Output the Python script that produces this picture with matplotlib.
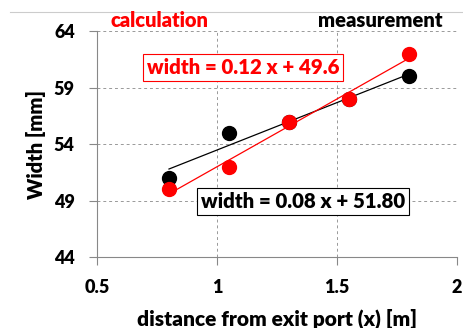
import numpy as np
import matplotlib
matplotlib.use("Agg")
import matplotlib.pyplot as plt
from matplotlib.lines import Line2D

plt.rcParams["font.family"] = ["Lato", "DejaVu Sans"]
plt.rcParams["font.weight"] = "heavy"

# distance from exit port [m]
x_pos = [0.8, 1.05, 1.3, 1.55, 1.8]
width_meas = [51, 55, 56, 58, 60]
width_calc = [50, 52, 56, 58, 62]

x_ticks = [0.5, 1, 1.5, 2]
x_labels = ["0.5", "1", "1.5", "2"]
y_ticks = [44, 49, 54, 59, 64]

fig = plt.figure(figsize=(4.64, 3.28), dpi=100)
ax = fig.add_axes([0.209, 0.216, 0.776, 0.689])

# linear trend lines
x = np.array(x_pos)
pm = np.polyfit(x, width_meas, 1)
pc = np.polyfit(x, width_calc, 1)
xl = np.array([x.min(), x.max()])

ax.plot(x_pos, width_meas, "o", color="black", ms=10, zorder=3)
ax.plot(xl, np.polyval(pm, xl), color="black", lw=0.9, zorder=4)
ax.plot(x_pos, width_calc, "o", color="#ff0000", ms=10, zorder=5)
ax.plot(xl, np.polyval(pc, xl), color="#ff0000", lw=0.9, zorder=6)

ax.set_xlim(0.5, 2)
ax.set_ylim(44, 64)
ax.set_xticks(x_ticks, labels=x_labels, fontsize=13, fontweight="heavy")
ax.set_yticks(y_ticks, labels=[str(v) for v in y_ticks], fontsize=13, fontweight="heavy")
ax.tick_params(colors="#888888", labelcolor="black", length=6, width=0.8)
ax.tick_params(axis="x", pad=10)
ax.tick_params(axis="y", pad=10)

ax.grid(True, ls=(0, (3, 3)), color="#999999", lw=0.7)
for s in ["top", "right"]:
    ax.spines[s].set_visible(False)
for s in ["left", "bottom"]:
    ax.spines[s].set_color("#888888")
    ax.spines[s].set_linewidth(0.8)

ax.set_xlabel("distance from exit port (x) [m]", fontsize=15, fontweight="heavy")
ax.set_ylabel("Width [mm]", fontsize=14.5, fontweight="heavy")
ax.xaxis.set_label_coords(0.5, -0.274)
ax.xaxis.label.set_va("center")
ax.yaxis.set_label_coords(-0.169, 0.5)
ax.yaxis.label.set_va("center")

ax.text(1.108, 60.8, "width = 0.12 x + 49.6", color="#ff0000", fontsize=14.7,
        fontweight="heavy", ha="center", va="center", zorder=7,
        bbox=dict(boxstyle="square,pad=0.2", fc="white", ec="#ff0000", lw=0.8))
ax.text(1.358, 48.9, "width = 0.08 x + 51.80", color="black", fontsize=14.7,
        fontweight="heavy", ha="center", va="center", zorder=7,
        bbox=dict(boxstyle="square,pad=0.2", fc="white", ec="black", lw=0.8))

fig.text(0.344, 0.939, "calculation", color="#ff0000", fontsize=14.5,
         fontweight="heavy", ha="center", va="center")
fig.text(0.819, 0.939, "measurement", color="black", fontsize=14.5,
         fontweight="heavy", ha="center", va="center")

fig.add_artist(Line2D([0.022, 1.0], [0.963, 0.963], color="#cccccc", lw=0.8))

fig.savefig("out.png", dpi=100)
